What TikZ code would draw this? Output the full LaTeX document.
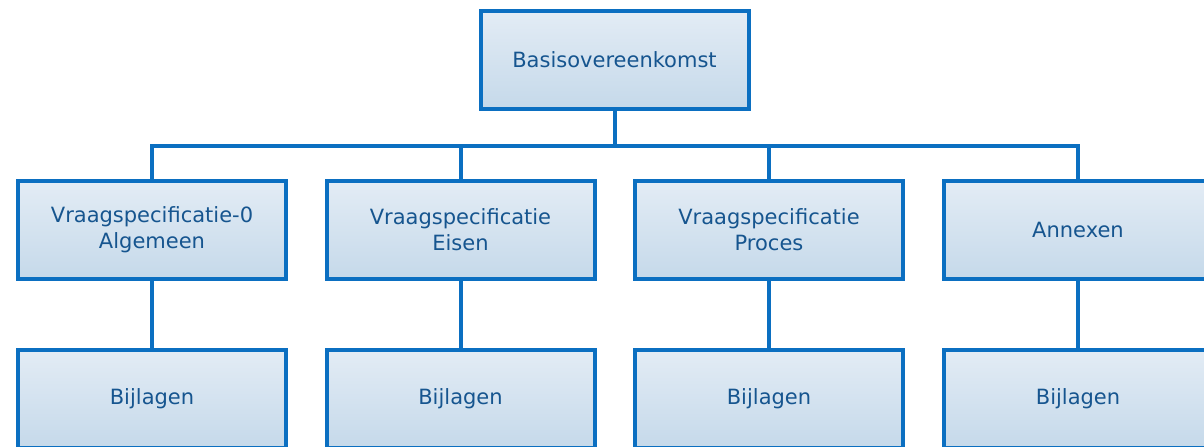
\documentclass[tikz,border=0pt]{standalone}
\usepackage{fontspec}
\setmainfont{DejaVu Sans}
\usetikzlibrary{positioning}
\definecolor{boxline}{HTML}{0B6FC1}
\definecolor{boxtext}{HTML}{16558F}
\definecolor{boxtop}{HTML}{E3ECF5}
\definecolor{boxbottom}{HTML}{C5D9EA}

\begin{document}
\begin{tikzpicture}[x=0.5pt,y=-0.5pt,
	box/.style={draw=boxline,line width=2pt,top color=boxtop,bottom color=boxbottom,
		minimum width=134pt,minimum height=49pt,inner sep=0pt,align=center,
		text=boxtext,font=\fontsize{10.5}{13}\selectfont},
	link/.style={draw=boxline,line width=2pt},
	]
	\useasboundingbox (0,0) rectangle (1204,446);
	\begin{scope}
	\clip (0,0) rectangle (1204,446);
	%top
	\node[box] (basis) at (614.5,59.5) {Basisovereenkomst};
	%second row
	\node[box] (spec0) at (152,230) {Vraagspecificatie-0\\Algemeen};
	\node[box] (eisen) at (460.5,230) {Vraagspecificatie\\Eisen};
	\node[box] (proces) at (769,230) {Vraagspecificatie\\Proces};
	\node[box] (annex) at (1078,230) {Annexen};
	%third row
	\node[box] (bij0) at (152,398.5) {Bijlagen};
	\node[box] (bij1) at (460.5,398.5) {Bijlagen};
	\node[box] (bij2) at (769,398.5) {Bijlagen};
	\node[box] (bij3) at (1078,398.5) {Bijlagen};
	%connectors
	\coordinate (bus) at (614.5,146);
	\foreach \a/\b in {spec0/bij0,eisen/bij1,proces/bij2,annex/bij3}{
		\draw[link] (basis.south) -- (bus) -| (\a.north);
		\draw[link] (\a.south) -- (\b.north);
	}
	\end{scope}
\end{tikzpicture}
\end{document}
